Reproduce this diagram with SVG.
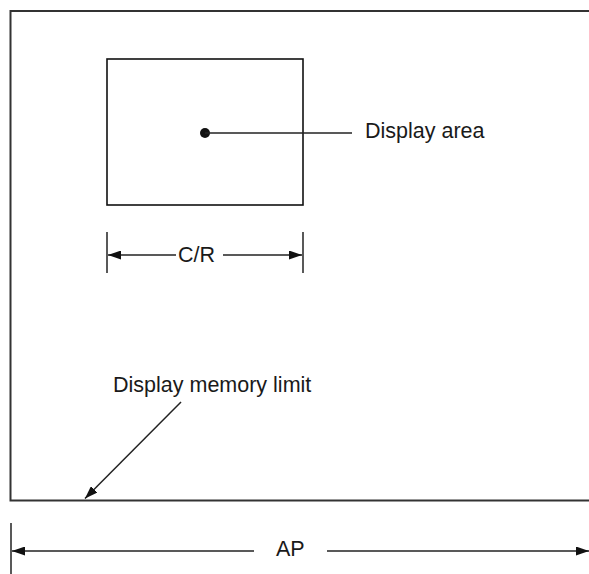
<svg xmlns="http://www.w3.org/2000/svg" width="589" height="574" viewBox="0 0 589 574">
<style>
.frame{fill:none;stroke:#333;stroke-width:2}
.box{fill:none;stroke:#111;stroke-width:1.6}
.ln{fill:none;stroke:#222;stroke-width:1.5}
.lbl{font-family:"Liberation Sans",Arial,sans-serif;font-size:21.5px;fill:#1a1a1a}
</style>
<defs>
<marker id="ah" viewBox="0 0 13 9" refX="13" refY="4.5" markerWidth="13" markerHeight="9" markerUnits="userSpaceOnUse" orient="auto-start-reverse">
<path d="M0,0 L13,4.5 L0,9 Z" fill="#111"/>
</marker>
</defs>
<rect width="589" height="574" fill="#fff"/>
<g id="memory">
<path class="frame" d="M592,11 H10.5 V500.5 H592"/>
</g>
<g id="display-area">
<rect class="box" x="107" y="59" width="196" height="146"/>
</g>
<g id="labels">
<text class="lbl" id="lbl-display-area" x="365" y="138">Display area</text>
<text class="lbl" id="lbl-cr" x="178" y="262">C/R</text>
<text class="lbl" id="lbl-limit" x="113" y="391.5">Display memory limit</text>
<text class="lbl" id="lbl-ap" x="276" y="556">AP</text>
</g>
<g id="connectors">
<circle cx="205" cy="133" r="5" fill="#111"/>
<line class="ln" x1="205" y1="133" x2="352" y2="133"/>
<line class="ln" x1="107" y1="232" x2="107" y2="273"/>
<line class="ln" x1="303" y1="232" x2="303" y2="273"/>
<line class="ln" x1="176" y1="255" x2="108" y2="255" marker-end="url(#ah)"/>
<line class="ln" x1="223" y1="255" x2="302" y2="255" marker-end="url(#ah)"/>
<line class="ln" x1="181" y1="402" x2="85" y2="498.5" marker-end="url(#ah)"/>
<line class="ln" x1="11" y1="523" x2="11" y2="576"/>
<line class="ln" x1="254" y1="551" x2="12" y2="551" marker-end="url(#ah)"/>
<line class="ln" x1="327" y1="551" x2="589" y2="551" marker-end="url(#ah)"/>
</g>
</svg>
